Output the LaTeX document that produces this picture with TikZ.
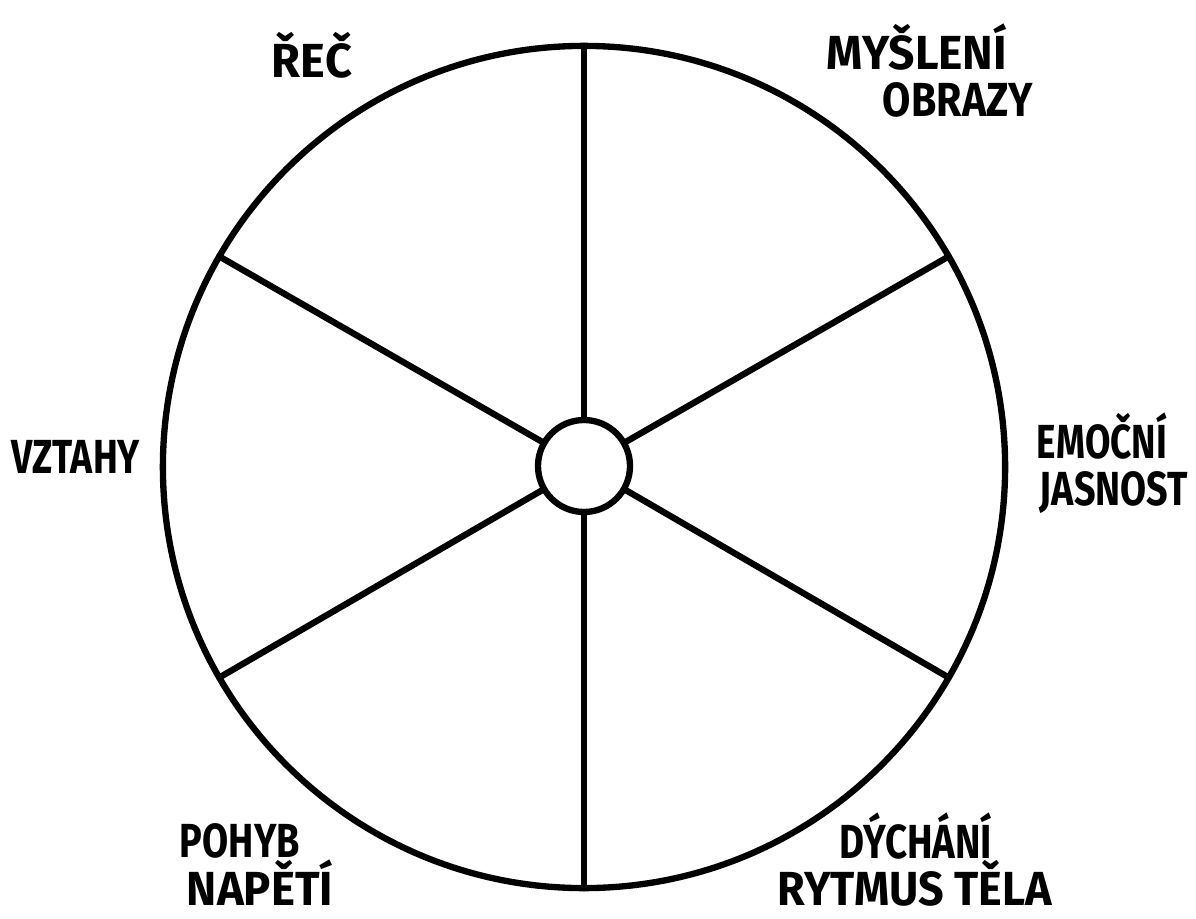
\documentclass[tikz,border=0pt]{standalone}
\usepackage{fontspec}
\setmainfont{Fira Sans}[BoldFont=* Bold]
\usepackage{graphicx}
\newcommand{\hwtext}[2]{\resizebox{#1}{\height}{#2}}
\tikzset{
  ink/.style={line width=4.5pt, line cap=round, black},
  lbl/.style={anchor=base, inner sep=0pt, outer sep=0pt, font=\fontsize{34}{36}\selectfont\bfseries},
}
\begin{document}
\begin{tikzpicture}[x=0.025cm, y=-0.025cm]
\useasboundingbox[fill=white] (0,0) rectangle (1196,919);
\node[ink, draw, circle, minimum size=21.05cm, inner sep=0pt, outer sep=0pt] (O) at (584,467) {};
\node[ink, draw, circle, minimum size=2.3cm, inner sep=0pt, outer sep=0pt] (C) at (584,466) {};
\foreach \a in {30,90,150,210,270,330} {
  \draw[ink] (C.\a) -- (O.\a);
}
\node[lbl] (rec) at (312,78) {\hwtext{2.0cm}{ŘEČ}};
\node[lbl] (mys) at (917,70) {\hwtext{4.5cm}{MYŠLENÍ}};
\node[lbl] (obr) at (958,117) {\hwtext{3.75cm}{OBRAZY}};
\node[lbl] (emo) at (1102,458) {\hwtext{3.25cm}{EMOČNÍ}};
\node[lbl] (jas) at (1114,505) {\hwtext{3.7cm}{JASNOST}};
\node[lbl] (dyc) at (916,858) {\hwtext{3.8cm}{DÝCHÁNÍ}};
\node[lbl] (ryt) at (915,905) {\hwtext{6.85cm}{RYTMUS TĚLA}};
\node[lbl] (poh) at (240,857) {\hwtext{3.0cm}{POHYB}};
\node[lbl] (nap) at (260,905) {\hwtext{3.65cm}{NAPĚTÍ}};
\node[lbl] (vzt) at (76,473) {\hwtext{3.2cm}{VZTAHY}};
\end{tikzpicture}
\end{document}
